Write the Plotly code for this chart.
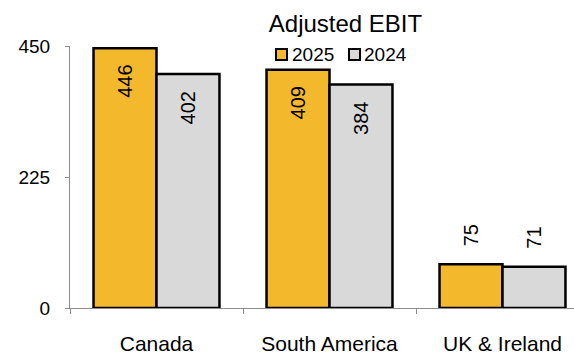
import plotly.graph_objects as go

# ---- data ----
categories = ["Canada", "South America", "UK & Ireland"]
series_names = ["2025", "2024"]
values_2025 = [446, 409, 75]
values_2024 = [402, 384, 71]
y_ticks = [0, 225, 450]

# ---- style ----
W, H = 574, 354
ML, MR, MT, MB = 70, 0, 46, 46
GOLD = "#F4B82C"
GREY = "#D9D9D9"
AXIS = "#8C8C8C"
FONT = "Liberation Sans, Arial, sans-serif"
BARGAP = 0.272
CAT_PX = 173.0
plot_w = W - ML - MR
plot_h = H - MT - MB
x_hi = -0.5 + plot_w / CAT_PX

fig = go.Figure()
colors = [GOLD, GREY]
all_vals = [values_2025, values_2024]
for name, vals, col in zip(series_names, all_vals, colors):
    fig.add_trace(go.Bar(
        x=categories, y=vals, name=name,
        marker=dict(color=col, line=dict(color="black", width=2.5)),
        showlegend=False,
    ))

# data labels (rotated), placed through the axis scales
half = (1 - BARGAP) / 4
annotations = []
for si, vals in enumerate(all_vals):
    off = -half if si == 0 else half
    for ci, v in enumerate(vals):
        inside = v > 150
        annotations.append(dict(
            x=ci + off, y=v, xref="x", yref="y",
            text=str(v), showarrow=False, textangle=-90,
            font=dict(family=FONT, size=20, color="black"),
            xanchor="center",
            yanchor="top" if inside else "bottom",
            yshift=-15 if inside else 16,
        ))

# custom legend
def px_x(px):
    return (px - ML) / plot_w

def px_y(py):
    return (H - MB - py) / plot_h

legend_items = [(276, 291), (349, 363)]
shapes = []
for (sx, tx), name, col in zip(legend_items, series_names, colors):
    shapes.append(dict(type="rect", xref="paper", yref="paper",
                       x0=px_x(sx), x1=px_x(sx + 11), y0=px_y(60), y1=px_y(49),
                       fillcolor=col, line=dict(color="black", width=2)))
    annotations.append(dict(x=px_x(tx), y=px_y(54), xref="paper", yref="paper",
                            text=name, showarrow=False, xanchor="left", yanchor="middle",
                            font=dict(family=FONT, size=19, color="black"),
                            borderpad=0))

fig.update_layout(
    width=W, height=H,
    margin=dict(l=ML, r=MR, t=MT, b=MB, pad=0),
    paper_bgcolor="white", plot_bgcolor="white",
    barmode="group", bargap=BARGAP, bargroupgap=0,
    title=dict(text="Adjusted EBIT", x=345.5 / W, xanchor="center",
               xref="container", yref="container", y=1 - 24 / H, yanchor="middle",
               font=dict(family=FONT, size=24, color="black")),
    font=dict(family=FONT, color="black"),
    annotations=annotations,
    shapes=shapes,
    showlegend=False,
)
fig.update_xaxes(
    type="category", range=[-0.5, x_hi],
    showline=True, linecolor=AXIS, linewidth=1,
    ticks="outside", tickson="boundaries", ticklen=5, tickcolor=AXIS,
    showgrid=False, zeroline=False,
    tickfont=dict(family=FONT, size=21, color="black"),
    ticklabelstandoff=17,
)
fig.update_yaxes(
    range=[0, 450], tickvals=y_ticks,
    showline=True, linecolor=AXIS, linewidth=1,
    ticks="outside", ticklen=4, tickcolor=AXIS,
    showgrid=False, zeroline=False,
    tickfont=dict(family=FONT, size=19, color="black"),
    ticklabelstandoff=11,
)

fig.write_html("out.html")
